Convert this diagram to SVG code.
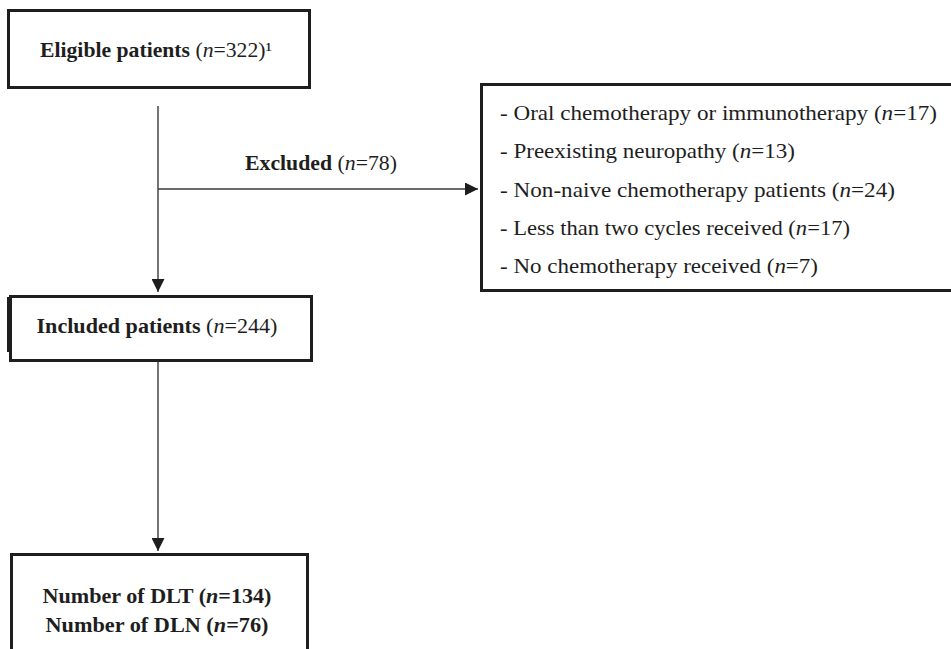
<svg xmlns="http://www.w3.org/2000/svg" width="951" height="649" viewBox="0 0 951 649">
<style>
.box{fill:#fff;stroke:#1e1e1e;stroke-width:3}
.ln{stroke:#3a3a3a;stroke-width:1.4;fill:none}
text{font-family:"Liberation Serif","DejaVu Serif",serif;font-size:21px;fill:#1e1e1e}
.b{font-weight:bold}
.i{font-style:italic}
</style>
<defs>
<marker id="ah" viewBox="0 0 10 10" refX="10" refY="5" markerWidth="13" markerHeight="13" markerUnits="userSpaceOnUse" orient="auto">
<path d="M0,0 L10,5 L0,10 Z" fill="#1e1e1e"/>
</marker>
</defs>
<rect width="951" height="649" fill="#fff"/>
<g id="connectors">
<line class="ln" x1="158" y1="106" x2="158" y2="292" marker-end="url(#ah)"/>
<line class="ln" x1="158" y1="189" x2="478" y2="189" marker-end="url(#ah)"/>
<line class="ln" x1="158" y1="362" x2="158" y2="551" marker-end="url(#ah)"/>
<text x="321" y="170" text-anchor="middle" textLength="152" lengthAdjust="spacingAndGlyphs"><tspan class="b">Excluded</tspan> (<tspan class="i">n</tspan>=78)</text>
</g>
<g id="eligible">
<rect class="box" x="8.5" y="10.5" width="301" height="77"/>
<text x="156" y="57" text-anchor="middle" textLength="232" lengthAdjust="spacingAndGlyphs"><tspan class="b">Eligible patients</tspan> (<tspan class="i">n</tspan>=322)¹</text>
</g>
<g id="included">
<rect class="box" x="10.5" y="296.5" width="301" height="64"/>
<line x1="8" y1="297" x2="8" y2="352" stroke="#1e1e1e" stroke-width="2"/>
<text x="157" y="333" text-anchor="middle" textLength="241" lengthAdjust="spacingAndGlyphs"><tspan class="b">Included patients</tspan> (<tspan class="i">n</tspan>=244)</text>
</g>
<g id="outcomes">
<rect class="box" x="11.5" y="554.5" width="296" height="110"/>
<text class="b" x="157" y="603" text-anchor="middle" textLength="229" lengthAdjust="spacingAndGlyphs">Number of DLT (<tspan class="i">n</tspan>=134)</text>
<text class="b" x="157" y="632" text-anchor="middle" textLength="223" lengthAdjust="spacingAndGlyphs">Number of DLN (<tspan class="i">n</tspan>=76)</text>
</g>
<g id="excluded">
<rect class="box" x="481.5" y="84.5" width="475" height="206"/>
<text x="500" y="120" textLength="437" lengthAdjust="spacingAndGlyphs">- Oral chemotherapy or immunotherapy (<tspan class="i">n</tspan>=17)</text>
<text x="500" y="158" textLength="295" lengthAdjust="spacingAndGlyphs">- Preexisting neuropathy (<tspan class="i">n</tspan>=13)</text>
<text x="500" y="197" textLength="395" lengthAdjust="spacingAndGlyphs">- Non-naive chemotherapy patients (<tspan class="i">n</tspan>=24)</text>
<text x="500" y="235" textLength="350" lengthAdjust="spacingAndGlyphs">- Less than two cycles received (<tspan class="i">n</tspan>=17)</text>
<text x="500" y="273" textLength="318" lengthAdjust="spacingAndGlyphs">- No chemotherapy received (<tspan class="i">n</tspan>=7)</text>
</g>
</svg>
